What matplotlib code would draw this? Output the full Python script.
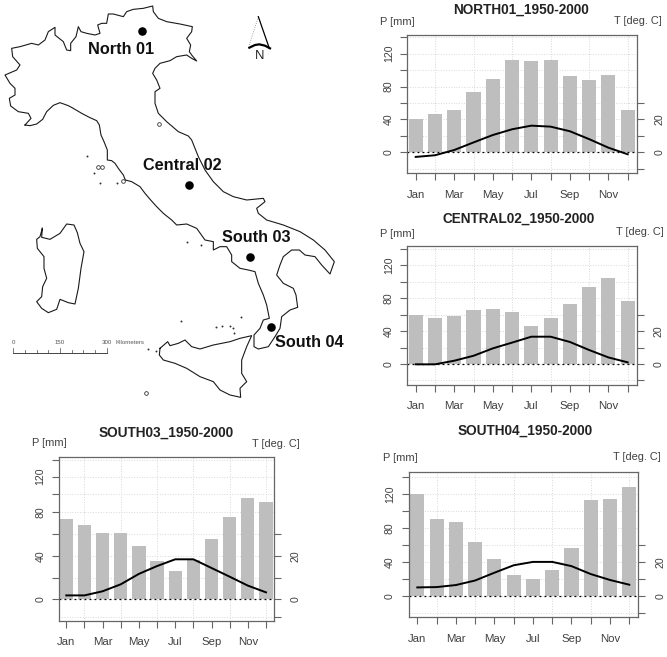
import numpy as np
import matplotlib
matplotlib.use("Agg")
import matplotlib.pyplot as plt

plt.rcParams['font.family'] = ['Liberation Sans', 'DejaVu Sans']

W, H = 667, 657
MONTHS = ['Jan', 'Feb', 'Mar', 'Apr', 'May', 'Jun', 'Jul', 'Aug', 'Sep', 'Oct', 'Nov', 'Dec']

north_p = [41, 47, 51, 73, 89, 112, 111, 112, 93, 88, 94, 51]
north_t = [-2.8, -1.8, 1.4, 6, 10.5, 14, 16.2, 15.6, 12.8, 8, 2.8, -1.2]
central_p = [59, 55.5, 58, 65.7, 67, 63, 46, 55.5, 72.5, 93.6, 105, 76]
central_t = [-0.2, -0.2, 2, 5, 9.5, 13, 16.6, 16.6, 13.4, 8.5, 4, 1]
south03_p = [74, 68.4, 61.3, 61.3, 49, 35.3, 26, 36, 55.5, 76, 96, 91]
south03_t = [1.8, 1.8, 3.7, 6.9, 11.7, 15.3, 18.4, 18.4, 14.4, 10.4, 6.3, 3.2]
south04_p = [120, 91, 87, 63, 44, 25, 20, 30, 56, 113, 115, 128.6]
south04_t = [4.9, 5.1, 6.3, 9, 13.6, 18, 20, 20, 17.5, 12.8, 9.3, 6.5]

# map outlines, traced at 3x picture scale
mainland = [(75,375),(90,377),(110,372),(128,358),(140,335),(160,316),(180,308),(205,317),(218,324),(245,340),
 (268,352),(290,362),(298,375),(303,405),(312,425),(322,450),(322,480),(335,482),(345,490),(355,505),(370,525),
 (376,540),(395,545),(420,560),(435,580),(452,600),(470,620),(490,640),(515,660),(530,675),(560,672),(590,685),
 (615,720),(640,725),(640,750),(660,740),(680,740),(695,765),(695,785),(720,805),(745,810),(765,815),(775,850),
 (790,885),(800,915),(808,955),(790,960),(780,985),(762,1005),(762,1040),(775,1047),(805,1040),(825,1010),
 (840,985),(845,950),(870,930),(893,922),(888,885),(880,865),(850,850),(830,825),(840,795),(850,770),(875,750),
 (898,750),(915,765),(945,770),(965,795),(990,822),(1003,785),(975,750),(940,720),(900,695),(850,675),(800,660),
 (775,640),(770,625),(795,605),(790,595),(740,600),(700,590),(670,575),(640,545),(615,510),(595,470),(575,420),
 (565,408),(535,395),(500,365),(475,340),(465,310),(465,275),(480,265),(470,240),(458,220),(465,205),(480,190),
 (510,182),(530,170),(560,165),(575,175),(590,183),(575,165),(568,155),(572,135),(560,115),(575,95),(577,80),
 (540,72),(500,65),(475,55),(460,35),(458,18),(430,25),(400,28),(380,35),(370,50),(340,42),(325,42),(320,70),
 (305,70),(293,75),(300,100),(285,105),(260,100),(243,95),(235,80),(228,110),(212,130),(212,152),(200,150),
 (190,125),(165,105),(165,82),(145,95),(135,120),(115,135),(95,130),(60,140),(35,145),(38,170),(60,195),(50,210),
 (15,225),(30,250),(45,265),(45,285),(28,295),(32,318),(55,335),(85,340),(93,355),(75,375)]
sardinia = [(127,685),(120,710),(110,718),(112,745),(132,770),(132,805),(140,835),(128,860),(125,890),(110,905),
 (125,925),(145,938),(170,928),(180,898),(205,908),(225,912),(235,865),(243,805),(252,755),(240,730),(232,698),
 (222,675),(200,672),(180,700),(150,718),(125,712),(127,685)]
sicily = [(480,1045),(503,1025),(510,1037),(535,1030),(555,1020),(575,1040),(600,1047),(640,1035),(690,1025),
 (720,1015),(755,1007),(740,1040),(725,1080),(725,1120),(740,1145),(720,1165),(722,1192),(690,1185),(660,1170),
 (640,1145),(600,1130),(560,1105),(525,1090),(490,1080),(478,1065),(480,1045)]
islets = [(262,468),(282,520),(300,550),(350,548),(562,727),(603,734),
 (543,964),(722,950),(648,980),(665,978),(690,977),(698,985),(703,998),(443,1047),(467,1052)]
ring_islets = [(478,372),(295,500),(307,500),(370,544),(437,1180)]
sites = [(425,93),(566,556),(751,772),(814,980)]
site_labels = ['North 01', 'Central 02', 'South 03', 'South 04']
label_xy = [(364,148),(548,498),(768,713),(928,1028)]
arrow_left = [(775,50),(748,135)]
arrow_right = [(775,50),(808,145)]
arrow_base = [(748,143),(765,135),(778,133),(795,137),(810,145)]
scale_km = [0, 150, 300]
scale_minor_km = [0, 37.5, 75, 112.5, 150, 187.5, 225, 262.5, 300]

fig = plt.figure(figsize=(W / 100, H / 100), dpi=100, facecolor='white')
bg = fig.add_axes([0, 0, 1, 1], zorder=5)
bg.set_xlim(0, W)
bg.set_ylim(H, 0)
bg.axis('off')
bg.patch.set_alpha(0)


def xy3(points):
    arr = np.array(points, dtype=float) / 3
    return arr[:, 0], arr[:, 1]


for outline in (mainland, sardinia, sicily):
    bg.plot(*xy3(outline), color='#1a1a1a', lw=0.8, solid_joinstyle='round')
ix, iy = xy3(islets)
bg.scatter(ix, iy, s=2.0, color='#333333', linewidths=0)
rx, ry = xy3(ring_islets)
bg.scatter(rx, ry, s=7, facecolors='white', edgecolors='#333333', linewidths=0.6)
sx, sy = xy3(sites)
bg.scatter(sx, sy, s=38, color='black', linewidths=0, zorder=3)
lx, ly = xy3(label_xy)
for name, x, y in zip(site_labels, lx, ly):
    bg.text(x, y, name, ha='center', va='center', fontsize=11.7, fontweight='bold', color='#111111')

bg.plot(*xy3(arrow_left), color='#888888', lw=0.6, ls=':')
bg.plot(*xy3(arrow_right), color='black', lw=0.9)
bg.plot(*xy3(arrow_base), color='black', lw=1.6)
bg.text(779 / 3, 168 / 3, 'N', ha='center', va='center', fontsize=9.4, color='#222222')

# scale bar: 300 km spans 93.3 px
km_px = 93.3 / 300
x0_bar, y_bar = 13.3, 352.7
bg.plot([x0_bar, x0_bar + 300 * km_px], [y_bar, y_bar], color='#444444', lw=0.7)
for km in scale_minor_km:
    h = 5 if km in scale_km else 2.7
    bg.plot([x0_bar + km * km_px] * 2, [y_bar, y_bar - h], color='#444444', lw=0.5)
for km in scale_km:
    bg.text(x0_bar + km * km_px, 342.7, str(km), ha='center', va='center', fontsize=4.4, color='#555555')
bg.text(115, 342.7, 'Kilometers', ha='left', va='center', fontsize=4.4, color='#555555')

TXT = '#404040'
BOX = '#666666'
months_x = np.arange(1, 13)
south03_nodes_mm = np.array([-24, -20, 0, 80, 100, 120, 140, 144], dtype=float)
south03_nodes_px = np.array([604, 591, 538, 277, 223, 170, 120, 110], dtype=float)


def panel(box, jan_dec, zero_y, px_per_mm, p, t, title, title_xy, p_xy, t_xy, leftx, rightx, month_y, warp=False):
    x0, x1, y0, y1 = box
    ax = fig.add_axes([x0 / W, 1 - y1 / H, (x1 - x0) / W, (y1 - y0) / H], zorder=2)
    step = (jan_dec[1] - jan_dec[0]) / 11
    ax.set_xlim(1 + (x0 - jan_dec[0]) / step, 12 + (x1 - jan_dec[1]) / step)
    if warp:
        fwd = lambda v: np.interp(v, south03_nodes_mm, -south03_nodes_px)
        inv = lambda v: np.interp(v, -south03_nodes_px, south03_nodes_mm)
        ylim = (-24, 144)
        ax.set_yscale('function', functions=(fwd, inv))
    else:
        ylim = ((zero_y - y1) / px_per_mm, (zero_y - y0) / px_per_mm)
    ax.set_ylim(*ylim)
    ax.set_axisbelow(True)
    for v in range(-20, 141, 20):
        ax.axhline(v, color='#d8d8d8', lw=0.7, ls=':', zorder=0)
    for m in months_x[1::2]:
        ax.axvline(m, color='#d8d8d8', lw=0.7, ls=':', zorder=0)
    ax.bar(months_x, p, width=0.73, color='#bebebe', linewidth=0, zorder=1)
    ax.axhline(0, color='black', lw=0.9, ls=(0, (1.5, 2.5)), zorder=2)
    ax.plot(months_x, 2 * np.asarray(t), color='black', lw=1.4, zorder=3)

    for s in ax.spines.values():
        s.set_color(BOX)
        s.set_linewidth(0.9)
    ax.set_xticks(months_x)
    ax.set_xticklabels([m if i % 2 == 0 else '' for i, m in enumerate(MONTHS)])
    ax.tick_params(axis='x', length=4.8, width=0.8, color=BOX, labelcolor=TXT, labelsize=8.2,
                   pad=(month_y - y1 - 6.7 - 4.2) * 0.72)
    ax.set_yticks(range(0, 141, 20))
    ax.set_yticklabels([str(v) if v % 40 == 0 and v < 140 else '' for v in range(0, 141, 20)],
                       rotation=90, va='center')
    ax.tick_params(axis='y', length=4.8, width=0.8, color=BOX, labelcolor=TXT, labelsize=7.6,
                   pad=(x0 - leftx - 6.7 - 5.5) * 0.72)

    tax = ax.twinx()
    if warp:
        tax.set_yscale('function', functions=(fwd, inv))
    tax.set_ylim(*ylim)
    tax.set_yticks([-20, 0, 20, 40, 60])
    tax.set_yticklabels(['', '0', '', '20', ''], rotation=90, va='center')
    tax.tick_params(axis='y', length=4.8, width=0.8, color=BOX, labelcolor=TXT, labelsize=7.6,
                    pad=(rightx - x1 - 6.7 - 3.5) * 0.72)
    for s in tax.spines.values():
        s.set_visible(False)

    bg.text(*title_xy, title, ha='center', va='center', fontsize=9.8, fontweight='bold', color='#222222')
    bg.text(*p_xy, 'P [mm]', ha='center', va='center', fontsize=7.9, color=TXT)
    bg.text(*t_xy, 'T [deg. C]', ha='center', va='center', fontsize=7.9, color=TXT)


panel((407.3, 636.7, 34.7, 173.3), (415.7, 627.7), 152.3, 0.8225, north_p, north_t, 'NORTH01_1950-2000',
      (521.3, 9.3), (397.7, 21.7), (637.7, 21.3), 388.3, 657.7, 194)
panel((407.3, 636.7, 246.3, 385), (415.7, 627.7), 364, 0.8225, central_p, central_t, 'CENTRAL02_1950-2000',
      (519, 219), (397.7, 234.3), (640.3, 232.3), 388.3, 656.7, 405.7)
panel((58.7, 274, 456.7, 621.3), (66.3, 266), 599.3, 1.087, south03_p, south03_t, 'SOUTH03_1950-2000',
      (166, 432.7), (49.3, 442.7), (276, 444), 40, 294, 641.3, warp=True)
panel((409, 637.7, 472.3, 616.7), (417.3, 629.3), 595.7, 0.845, south04_p, south04_t, 'SOUTH04_1950-2000',
      (524.7, 430.7), (400.7, 457.7), (637.3, 457.3), 389.3, 659, 638)

fig.savefig('out.png', dpi=100, facecolor='white')
